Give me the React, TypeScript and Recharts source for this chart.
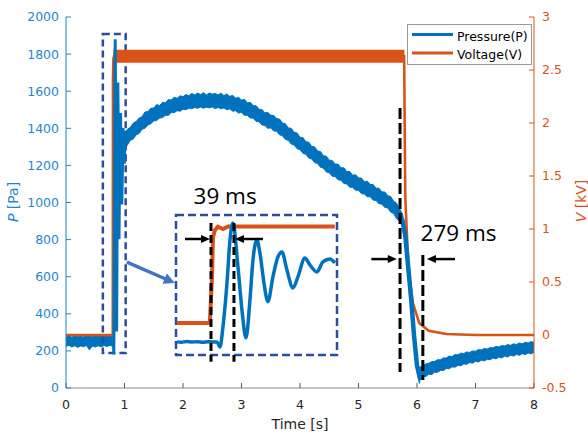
import React from 'react';
import {
  ComposedChart, Line, Area, XAxis, YAxis, ReferenceArea, ReferenceLine, ReferenceDot, Legend,
} from 'recharts';

const BLUE = '#0072BD';
const BLUE_TXT = '#1F85CC';
const ORANGE = '#D95319';
const NAVY = '#2E4C9C';
const ARROW_BLUE = '#4472C4';
const FONT = 'DejaVu Sans';

// ---------- axis ticks ----------
const xTicks = [0, 1, 2, 3, 4, 5, 6, 7, 8];
const pTicks = [0, 200, 400, 600, 800, 1000, 1200, 1400, 1600, 1800, 2000];
const vTicks = [-0.5, 0, 0.5, 1, 1.5, 2, 2.5, 3];

// ---------- pressure: baseline band (before discharge) ----------
const baseT = [0, 0.05, 0.1, 0.15, 0.2, 0.25, 0.3, 0.35, 0.4, 0.45, 0.5, 0.55, 0.6, 0.65, 0.7, 0.75, 0.8];
const baseLo = [224, 230, 221, 228, 219, 227, 223, 229, 206, 226, 221, 228, 222, 229, 224, 230, 225];
const baseHi = [276, 282, 274, 283, 277, 281, 275, 284, 279, 276, 285, 277, 283, 276, 282, 278, 280];

// ---------- pressure: burst oscillation (seconds, Pa) ----------
const burstT = [0.737, 0.745, 0.755, 0.765, 0.775, 0.785, 0.795, 0.805, 0.8113, 0.8169, 0.8225, 0.83, 0.8356,
  0.8411, 0.8505, 0.8579, 0.8654, 0.8728, 0.8784, 0.8858, 0.8914, 0.8989, 0.9063, 0.9156, 0.9249, 0.9324,
  0.9417, 0.9529, 0.9622, 0.9752, 0.9845, 0.9976, 1.0087, 1.0218, 1.0311];
const burstP = [250, 245, 255, 248, 252, 246, 253, 249, 250, 181, 456, 1058, 1647,
  1880, 1278, 688, 305, 825, 1373, 1647, 1469, 1058, 802, 1141, 1415, 1483,
  1236, 990, 1141, 1401, 1305, 1209, 1346, 1387, 1332];

// ---------- pressure: main noisy band ----------
const bandT = [1.0, 1.05, 1.1, 1.15, 1.2, 1.25, 1.3, 1.35, 1.4, 1.45, 1.5, 1.55, 1.6, 1.65, 1.7, 1.75, 1.8, 1.85, 1.9, 1.95,
  2.0, 2.05, 2.1, 2.15, 2.2, 2.25, 2.3, 2.35, 2.4, 2.45, 2.5, 2.55, 2.6, 2.65, 2.7, 2.75, 2.8, 2.85, 2.9, 2.95,
  3.0, 3.05, 3.1, 3.15, 3.2, 3.25, 3.3, 3.35, 3.4, 3.45, 3.5, 3.55, 3.6, 3.65, 3.7, 3.75, 3.8, 3.85, 3.9, 3.95,
  4.0, 4.05, 4.1, 4.15, 4.2, 4.25, 4.3, 4.35, 4.4, 4.45, 4.5, 4.55, 4.6, 4.65, 4.7, 4.75, 4.8, 4.85, 4.9, 4.95,
  5.0, 5.05, 5.1, 5.15, 5.2, 5.25, 5.3, 5.35, 5.4, 5.45, 5.5, 5.55, 5.6, 5.65, 5.7, 5.75, 5.8, 5.85, 5.9, 5.95,
  6.0, 6.04, 6.05, 6.1, 6.15, 6.2, 6.25, 6.3, 6.35, 6.4, 6.45, 6.5, 6.55, 6.6, 6.65, 6.7, 6.75, 6.8, 6.85, 6.9, 6.95,
  7.0, 7.05, 7.1, 7.15, 7.2, 7.25, 7.3, 7.35, 7.4, 7.45, 7.5, 7.55, 7.6, 7.65, 7.7, 7.75, 7.8, 7.85, 7.9, 7.95, 8.0];
const bandLo = [1290, 1310, 1335, 1342, 1365, 1372, 1395, 1400, 1418, 1425, 1440, 1442, 1455, 1458, 1470, 1470, 1485, 1484, 1495, 1492,
  1503, 1500, 1508, 1505, 1512, 1508, 1515, 1508, 1514, 1510, 1515, 1506, 1512, 1505, 1510, 1500, 1505, 1492, 1495, 1482,
  1485, 1470, 1470, 1455, 1455, 1437, 1435, 1418, 1415, 1400, 1402, 1385, 1385, 1365, 1360, 1340, 1335, 1315, 1310, 1290,
  1285, 1265, 1260, 1240, 1235, 1215, 1210, 1190, 1185, 1165, 1160, 1142, 1140, 1122, 1120, 1102, 1100, 1082, 1082, 1066,
  1066, 1048, 1046, 1031, 1031, 1013, 1011, 993, 991, 973, 971, 948, 941, 913, 901, 870, 785, 615, 445, 248,
  88, 25, 40, 62, 62, 74, 72, 85, 84, 95, 94, 105, 104, 114, 112, 122, 120, 130, 128, 137, 134,
  144, 140, 150, 146, 155, 152, 162, 157, 167, 162, 172, 167, 177, 172, 181, 176, 185, 180, 189, 184, 192];
const bandHi = [1372, 1395, 1405, 1428, 1437, 1455, 1462, 1488, 1490, 1508, 1510, 1528, 1522, 1540, 1538, 1555, 1552, 1568, 1562, 1575,
  1570, 1582, 1575, 1588, 1580, 1590, 1582, 1592, 1580, 1590, 1584, 1588, 1580, 1590, 1576, 1585, 1572, 1578, 1562, 1567,
  1552, 1556, 1537, 1540, 1522, 1522, 1502, 1502, 1483, 1486, 1470, 1470, 1452, 1450, 1428, 1425, 1402, 1400, 1378, 1375,
  1352, 1350, 1328, 1325, 1302, 1300, 1278, 1275, 1252, 1250, 1228, 1227, 1207, 1207, 1187, 1187, 1167, 1167, 1147, 1150,
  1132, 1132, 1112, 1115, 1097, 1097, 1077, 1077, 1057, 1057, 1037, 1032, 1007, 997, 967, 940, 858, 690, 515, 315,
  155, 105, 112, 120, 130, 133, 142, 143, 152, 152, 162, 162, 172, 170, 180, 179, 188, 186, 194, 192, 200,
  198, 207, 205, 213, 210, 218, 216, 224, 221, 229, 226, 234, 230, 238, 235, 242, 239, 246, 243, 250, 246];

// ---------- pressure: steep drop centre line ----------
const dropT = [5.7, 5.75, 5.8, 5.85, 5.9, 5.95, 6.0, 6.04, 6.1];
const dropP = [935, 905, 820, 650, 480, 280, 120, 68, 92];

// ---------- voltage ----------
const vT = [0, 0.799, 0.803, 0.81, 0.82, 5.78, 5.8, 5.84, 5.87, 5.93, 6.04, 6.2, 6.5, 7.0, 8.0];
const vV = [0, 0, 2.4, 2.6, 2.63, 2.63, 1.3, 0.8, 0.55, 0.3, 0.11, 0.04, 0.01, 0, 0];
const vPlateauT = [0.808, 5.785];
const vPlateauV = [2.63, 2.63];

// ---------- inset voltage ----------
const insetVT = [0.737, 0.798, 0.802, 0.8039, 0.8076, 0.8132, 0.8225, 0.8318, 0.84, 1.031];
const insetVV = [0, 0, 1.2, 2.33, 2.52, 2.61, 2.55, 2.62, 2.62, 2.62];

// ---------- build series ----------
const pts = (t: number[], y: number[]) => t.map((x, i) => ({ t: x, y: y[i] }));
const rng = (t: number[], lo: number[], hi: number[]) => t.map((x, i) => ({ t: x, r: [lo[i], hi[i]] }));

const baseData = rng(baseT, baseLo, baseHi);
const bandData = rng(bandT, bandLo, bandHi);
const burstData = pts(burstT, burstP);
const dropData = pts(dropT, dropP);
const vData = pts(vT, vV);
const vPlateau = pts(vPlateauT, vPlateauV);
const insetV = pts(insetVT, insetVV);

const makeArrow = (color: string, width: number, head: number, headW: number) => (props: any) => {
  const { x1, y1, x2, y2 } = props;
  const dx = x2 - x1;
  const dy = y2 - y1;
  const len = Math.hypot(dx, dy) || 1;
  const ux = dx / len;
  const uy = dy / len;
  const bx = x2 - ux * head;
  const by = y2 - uy * head;
  const px = -uy * headW / 2;
  const py = ux * headW / 2;
  return (
    <g>
      <line x1={x1} y1={y1} x2={bx + ux} y2={by + uy} stroke={color} strokeWidth={width} />
      <polygon points={`${x2},${y2} ${bx + px},${by + py} ${bx - px},${by - py}`} fill={color} />
    </g>
  );
};
const blackArrow = makeArrow('#000', 2.5, 9, 8);
const blueArrow = makeArrow(ARROW_BLUE, 3.5, 11, 11);

const tickStyle = (fill: string) => ({ fontFamily: FONT, fontSize: 12.5, fill });

const LeftTitle = () => (
  <text transform="translate(17.5,202) rotate(-90)" textAnchor="middle" fontFamily={FONT} fontSize={14} fill={BLUE_TXT}>
    <tspan fontStyle="italic">P</tspan> [Pa]
  </text>
);
const RightTitle = () => (
  <text transform="translate(585.5,201) rotate(-90)" textAnchor="middle" fontFamily={FONT} fontSize={14} fill={ORANGE}>
    <tspan fontStyle="italic">V</tspan> [kV]
  </text>
);
const BottomTitle = () => (
  <text x={300} y={429} textAnchor="middle" fontFamily={FONT} fontSize={14} fill="#262626">Time [s]</text>
);

const LegendBox = () => (
  <svg width={125} height={41} style={{ display: 'block' }}>
    <rect x={0.5} y={0.5} width={124} height={40} fill="#fff" stroke="#9a9a9a" strokeWidth={1} />
    <line x1={5} x2={46} y1={10.5} y2={10.5} stroke={BLUE} strokeWidth={3} />
    <text x={50} y={16.5} fontFamily={FONT} fontSize={12.5} fill="#000">Pressure(P)</text>
    <line x1={5} x2={46} y1={29} y2={29} stroke={ORANGE} strokeWidth={3} />
    <text x={50} y={35} fontFamily={FONT} fontSize={12.5} fill="#000">Voltage(V)</text>
  </svg>
);

const MainChart = () => (
  <ComposedChart width={588} height={434} margin={{ top: 17, right: 0, bottom: 0, left: 0 }}>
    <XAxis
      dataKey="t" type="number" domain={[0, 8]} ticks={xTicks} height={46}
      stroke="#8c8c8c" tickSize={-5} tickMargin={17} tick={tickStyle('#262626')}
      tickLine={{ stroke: '#5a5a5a' }} label={{ content: () => <BottomTitle /> }}
    />
    <YAxis
      yAxisId="p" domain={[0, 2000]} ticks={pTicks} width={66} stroke={BLUE_TXT}
      tickSize={-5} tickMargin={12} tick={tickStyle(BLUE_TXT)} allowDataOverflow
      label={{ content: () => <LeftTitle /> }}
    />
    <YAxis
      yAxisId="v" orientation="right" domain={[-0.5, 3]} ticks={vTicks} width={54} stroke={ORANGE}
      tickSize={-5} tickMargin={13} tick={tickStyle(ORANGE)} allowDataOverflow
      label={{ content: () => <RightTitle /> }}
    />
    <Legend
      layout="vertical" align="center" verticalAlign="middle"
      wrapperStyle={{ left: 407, top: 24, width: 125, height: 41 }}
      content={() => <LegendBox />}
    />

    <Line yAxisId="v" data={vData} dataKey="y" stroke={ORANGE} strokeWidth={2.6} dot={false} isAnimationActive={false} legendType="line" name="Voltage(V)" />
    <Line yAxisId="v" data={vPlateau} dataKey="y" stroke={ORANGE} strokeWidth={13} dot={false} isAnimationActive={false} legendType="none" />

    <Area yAxisId="p" data={baseData} dataKey="r" stroke={BLUE} strokeWidth={1} fill={BLUE} fillOpacity={1} dot={false} isAnimationActive={false} legendType="none" />
    <Area yAxisId="p" data={bandData} dataKey="r" stroke={BLUE} strokeWidth={1} fill={BLUE} fillOpacity={1} dot={false} isAnimationActive={false} legendType="none" />
    <Line yAxisId="p" data={dropData} dataKey="y" stroke={BLUE} strokeWidth={4.5} dot={false} isAnimationActive={false} legendType="none" />
    <Line yAxisId="p" data={burstData} dataKey="y" stroke={BLUE} strokeWidth={3} dot={false} isAnimationActive={false} name="Pressure(P)" />

    <ReferenceArea
      yAxisId="p" x1={0.63} x2={1.02} y1={189} y2={1908} ifOverflow="visible"
      fill="none" fillOpacity={0} stroke={NAVY} strokeWidth={2.5} strokeDasharray="7 4"
    />
    <ReferenceLine yAxisId="p" segment={[{ x: 1.041, y: 679 }, { x: 1.86, y: 566 }]} ifOverflow="visible" shape={blueArrow} />

    <ReferenceLine yAxisId="p" segment={[{ x: 5.71, y: 1509 }, { x: 5.71, y: 86 }]} ifOverflow="visible" stroke="#000" strokeWidth={3} strokeDasharray="11 4" />
    <ReferenceLine yAxisId="p" segment={[{ x: 6.1, y: 717 }, { x: 6.1, y: 43 }]} ifOverflow="visible" stroke="#000" strokeWidth={3} strokeDasharray="11 4" />
    <ReferenceLine yAxisId="p" segment={[{ x: 5.22, y: 695 }, { x: 5.655, y: 695 }]} ifOverflow="visible" shape={blackArrow} />
    <ReferenceLine yAxisId="p" segment={[{ x: 6.65, y: 695 }, { x: 6.17, y: 695 }]} ifOverflow="visible" shape={blackArrow} />

    <ReferenceDot yAxisId="p" x={2.72} y={1035} r={0} stroke="none" fill="none" ifOverflow="visible"
      label={{ value: '39 ms', position: 'center', fontFamily: 'Open Sans', fontSize: 22.5, fill: '#000' }} />
    <ReferenceDot yAxisId="p" x={6.71} y={833} r={0} stroke="none" fill="none" ifOverflow="visible"
      label={{ value: '279 ms', position: 'center', fontFamily: 'Open Sans', fontSize: 22.5, fill: '#000' }} />
  </ComposedChart>
);

const InsetChart = () => (
  <ComposedChart width={181} height={165} margin={{ top: 10, right: 10, bottom: 15, left: 10 }}>
    <XAxis dataKey="t" type="number" domain={[0.735, 1.035]} hide allowDataOverflow />
    <YAxis yAxisId="p" domain={[70, 1990]} hide allowDataOverflow />
    <YAxis yAxisId="v" orientation="right" domain={[-0.87, 2.93]} hide allowDataOverflow />
    <Line yAxisId="v" data={insetV} dataKey="y" stroke={ORANGE} strokeWidth={4} dot={false} isAnimationActive={false} />
    <Line yAxisId="p" type="monotone" data={burstData} dataKey="y" stroke={BLUE} strokeWidth={3.5} dot={false} isAnimationActive={false} />
    <ReferenceArea
      yAxisId="p" x1={0.735} x2={1.035} y1={70} y2={1990} ifOverflow="visible"
      fill="none" fillOpacity={0} stroke={NAVY} strokeWidth={2.5} strokeDasharray="8 4"
    />
    <ReferenceLine yAxisId="p" segment={[{ x: 0.8002, y: 1880 }, { x: 0.8002, y: -24 }]} ifOverflow="visible" stroke="#000" strokeWidth={3} strokeDasharray="8 4" />
    <ReferenceLine yAxisId="p" segment={[{ x: 0.843, y: 1880 }, { x: 0.843, y: -24 }]} ifOverflow="visible" stroke="#000" strokeWidth={3} strokeDasharray="8 4" />
    <ReferenceLine yAxisId="p" segment={[{ x: 0.7518, y: 1661 }, { x: 0.7983, y: 1661 }]} ifOverflow="visible" shape={blackArrow} />
    <ReferenceLine yAxisId="p" segment={[{ x: 0.897, y: 1661 }, { x: 0.8449, y: 1661 }]} ifOverflow="visible" shape={blackArrow} />
  </ComposedChart>
);

export default function App() {
  return (
    <div style={{ position: 'absolute', left: 0, top: 0, width: 588, height: 434, background: '#fff', overflow: 'hidden' }}>
      <div style={{ position: 'absolute', left: 0, top: 0 }}>
        <MainChart />
      </div>
      <div style={{ position: 'absolute', left: 166, top: 205 }}>
        <InsetChart />
      </div>
    </div>
  );
}
